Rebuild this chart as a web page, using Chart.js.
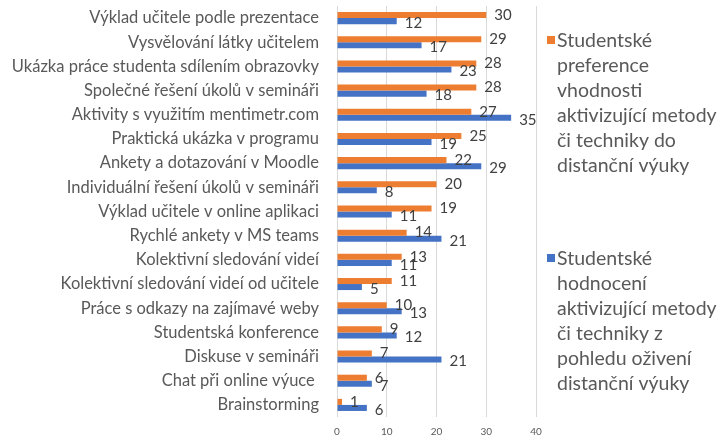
<!DOCTYPE html>
<html lang="cs">
<head>
    <meta charset="UTF-8">
    <title>Aktivizující metody v distanční výuce</title>
    <style>
        html, body {
            margin: 0;
            padding: 0;
            background: #fff;
        }

        #chart-container {
            width: 722px;
            height: 437px;
        }
    </style>
</head>
<body>
    <div id="chart-container">
        <canvas id="methods-chart"></canvas>
    </div>

    <script src="https://cdn.jsdelivr.net/npm/chart.js"></script>
    <script>
        const categories = [
            'Výklad učitele podle prezentace',
            'Vysvělování látky učitelem',
            'Ukázka práce studenta sdílením obrazovky',
            'Společné řešení úkolů v semináři',
            'Aktivity s využitím mentimetr.com',
            'Praktická ukázka v programu',
            'Ankety a dotazování v Moodle',
            'Individuální řešení úkolů v semináři',
            'Výklad učitele v online aplikaci',
            'Rychlé ankety v MS teams',
            'Kolektivní sledování videí',
            'Kolektivní sledování videí od učitele',
            'Práce s odkazy na zajímavé weby',
            'Studentská konference',
            'Diskuse v semináři',
            'Chat při online výuce ',
            'Brainstorming'
        ];
        const preference = [30, 29, 28, 28, 27, 25, 22, 20, 19, 14, 13, 11, 10, 9, 7, 6, 1];
        const evaluation = [12, 17, 23, 18, 35, 19, 29, 8, 11, 21, 11, 5, 13, 12, 21, 7, 6];
        const xTicks = [0, 10, 20, 30, 40];

        const preferenceLegend = ['Studentské', 'preference', 'vhodnosti', 'aktivizující metody', 'či techniky do', 'distanční výuky'];
        const evaluationLegend = ['Studentské', 'hodnocení', 'aktivizující metody', 'či techniky z', 'pohledu oživení', 'distanční výuky'];

        const FONT = 'Lato, "Open Sans", sans-serif';

        // numbers next to the end of every bar
        const valueLabels = {
            id: 'valueLabels',
            afterDatasetsDraw(chart) {
                const ctx = chart.ctx;
                ctx.save();
                ctx.font = '15px ' + FONT;
                ctx.fillStyle = '#404040';
                ctx.textBaseline = 'middle';
                chart.data.datasets.forEach((ds, i) => {
                    chart.getDatasetMeta(i).data.forEach((bar, j) => {
                        ctx.fillText(ds.data[j], bar.x + 8, bar.y + (i === 1 ? 2 : 0));
                    });
                });
                ctx.restore();
            }
        };

        // multi-line legend on the right side
        const sideLegend = {
            id: 'sideLegend',
            afterDraw(chart, args, opts) {
                const ctx = chart.ctx;
                const x = chart.chartArea.right + 11;
                ctx.save();
                ctx.font = '19.5px ' + FONT;
                ctx.textBaseline = 'middle';
                chart.data.datasets.forEach((ds, i) => {
                    const y = opts.tops[i];
                    ctx.fillStyle = ds.backgroundColor;
                    ctx.fillRect(x, y - 4, 8, 8);
                    ctx.fillStyle = '#595959';
                    ds.legendLines.forEach((line, k) => {
                        ctx.fillText(line, x + 10, y + 1 + k * opts.lineHeight);
                    });
                });
                ctx.restore();
            }
        };

        const chart = new Chart(document.getElementById('methods-chart'), {
            type: 'bar',
            data: {
                labels: categories,
                datasets: [
                    {
                        label: preferenceLegend.join(' '),
                        legendLines: preferenceLegend,
                        data: preference,
                        backgroundColor: '#ED7D31',
                        categoryPercentage: 0.5,
                        barPercentage: 1.0
                    },
                    {
                        label: evaluationLegend.join(' '),
                        legendLines: evaluationLegend,
                        data: evaluation,
                        backgroundColor: '#4472C4',
                        categoryPercentage: 0.5,
                        barPercentage: 1.0
                    }
                ]
            },
            options: {
                indexAxis: 'y',
                responsive: true,
                maintainAspectRatio: false,
                animation: false,
                layout: {
                    padding: { top: 6, right: 186, bottom: 0, left: 0 }
                },
                plugins: {
                    legend: { display: false },
                    tooltip: { enabled: false },
                    sideLegend: { tops: [40, 258], lineHeight: 25 }
                },
                scales: {
                    x: {
                        min: 0,
                        max: 40,
                        afterBuildTicks: scale => {
                            scale.ticks = xTicks.map(v => ({ value: v }));
                        },
                        afterFit: scale => {
                            scale.height = 20;
                            scale.paddingLeft = 0;
                            scale.paddingRight = 0;
                        },
                        ticks: {
                            color: '#595959',
                            font: { family: FONT, size: 10 },
                            padding: 9
                        },
                        grid: {
                            color: '#d9d9d9',
                            drawTicks: false
                        },
                        border: { display: false }
                    },
                    y: {
                        afterFit: scale => {
                            scale.width = 337;
                            scale.paddingTop = 0;
                            scale.paddingBottom = 0;
                        },
                        ticks: {
                            autoSkip: false,
                            color: '#595959',
                            font: { family: FONT, size: 16.5 },
                            padding: 18
                        },
                        grid: { display: false, drawTicks: false },
                        border: { display: false }
                    }
                }
            },
            plugins: [valueLabels, sideLegend]
        });
    </script>
</body>
</html>
